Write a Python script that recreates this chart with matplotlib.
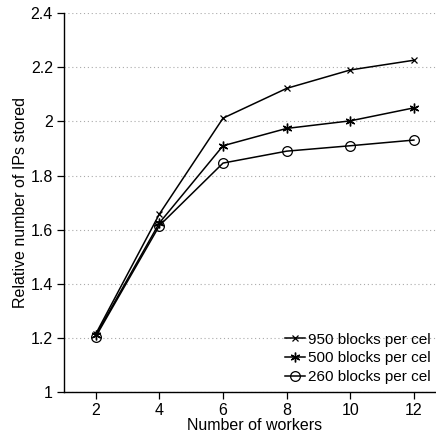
import matplotlib
matplotlib.use("Agg")
import matplotlib.pyplot as plt

plt.rcParams['font.family'] = ['Liberation Sans', 'DejaVu Sans']

workers = [2, 4, 6, 8, 10, 12]
blocks_950 = [1.215, 1.658, 2.012, 2.122, 2.190, 2.226]
blocks_500 = [1.210, 1.625, 1.910, 1.974, 2.002, 2.050]
blocks_260 = [1.205, 1.615, 1.846, 1.890, 1.910, 1.931]
series_labels = ["950 blocks per cel", "500 blocks per cel", "260 blocks per cel"]
y_ticks = [1, 1.2, 1.4, 1.6, 1.8, 2, 2.2, 2.4]
y_tick_labels = ["1", "1.2", "1.4", "1.6", "1.8", "2", "2.2", "2.4"]

fig = plt.figure(figsize=(4.36, 4.38), dpi=100)
ax = fig.add_axes([0.1468, 0.105, 0.8755, 0.865])

ax.plot(workers, blocks_950, color='black', lw=1.1, marker='x', ms=5, mew=0.9,
        label=series_labels[0])
ax.plot(workers, blocks_500, color='black', lw=1.1, marker=(6, 2, 0), ms=7, mew=1.0,
        label=series_labels[1])
ax.plot(workers, blocks_260, color='black', lw=1.1, marker='o', ms=7, mew=0.9,
        mfc='none', label=series_labels[2])

ax.set_xlim(1, 13)
ax.set_ylim(1, 2.4)
ax.set_xticks(workers)
ax.set_yticks(y_ticks)
ax.set_yticklabels(y_tick_labels)
ax.yaxis.grid(True, linestyle=(0, (1, 2.5)), color='#aaaaaa', lw=0.8)
ax.set_axisbelow(True)

for side in ('top', 'right'):
    ax.spines[side].set_visible(False)
for side in ('left', 'bottom'):
    ax.spines[side].set_linewidth(1.0)
ax.tick_params(direction='out', length=5, width=0.9, labelsize=11.5, pad=3)

ax.set_xlabel("Number of workers", fontsize=11.5, labelpad=0)
ax.set_ylabel("Relative number of IPs stored", fontsize=11.5, labelpad=2)

# legend sits in the lower right corner, text kept inside the figure edge
leg = ax.legend(loc='lower left', bbox_to_anchor=(0.553, -0.005), frameon=False,
                fontsize=11, handlelength=1.3, handletextpad=0.2,
                labelspacing=0.3, borderaxespad=0.25)

fig.savefig("out.png", dpi=100)
